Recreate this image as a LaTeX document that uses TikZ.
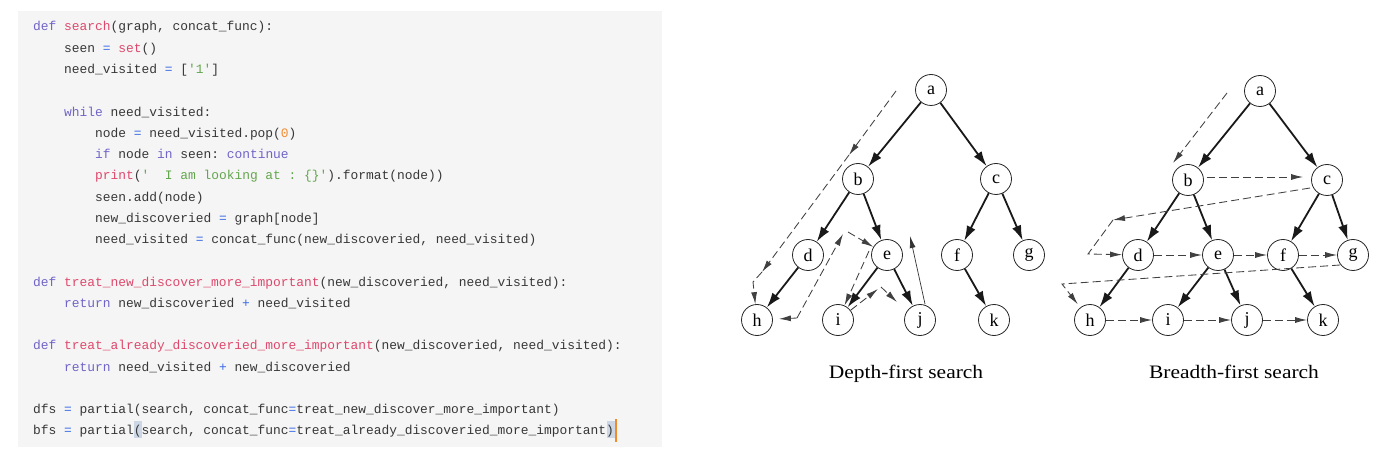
\documentclass[tikz,border=0pt]{standalone}
\usepackage{fontspec}
\setmainfont{Liberation Serif}
\newfontfamily\codefont{Liberation Mono}
\usetikzlibrary{arrows.meta}

\definecolor{panelbg}{RGB}{245,245,245}
\definecolor{codetext}{RGB}{55,55,55}
\definecolor{kwcol}{RGB}{112,100,200}
\definecolor{fncol}{RGB}{222,72,108}
\definecolor{strcol}{RGB}{100,166,78}
\definecolor{numcol}{RGB}{242,140,52}
\definecolor{opcol}{RGB}{58,108,228}
\definecolor{hlbg}{RGB}{204,214,228}
\definecolor{cursorcol}{RGB}{240,140,40}

% syntax colouring helpers
\newcommand\cK[1]{\textcolor{kwcol}{#1}}
\newcommand\cF[1]{\textcolor{fncol}{#1}}
\newcommand\cS[1]{\textcolor{strcol}{#1}}
\newcommand\cN[1]{\textcolor{numcol}{#1}}
\newcommand\cO[1]{\textcolor{opcol}{#1}}
\newcommand\sq{\textquotesingle}
% one code line: name, indent (columns), line number, text
\newcommand\codeln[4]{\node[codeline] (#1) at ({33+#2*7.75},{31+#3*21.26}) {#4};}

\begin{document}
\begin{tikzpicture}[x=1pt,y=-1pt,
  codeline/.style={anchor=base west, inner sep=0pt, text=codetext,
    font=\codefont\fontsize{12.9}{15}\selectfont\frenchspacing},
  treenode/.style={circle, draw=black!85, line width=0.8pt, fill=white,
    minimum size=31pt, inner sep=0pt, font=\fontsize{18}{18}\selectfont},
  treeedge/.style={draw=black!90, line width=1.8pt, -{Latex[length=15pt,width=9.5pt]}},
  trail/.style={draw=black!75, line width=0.85pt, dash pattern=on 8pt off 4pt,
    -{Latex[length=12pt,width=6pt]}},
  thinarrow/.style={draw=black!80, line width=0.7pt, -{Latex[length=12pt,width=6pt]}},
  caption/.style={anchor=base, inner sep=0pt, font=\fontsize{19}{19}\selectfont}]

\useasboundingbox (0,0) rectangle (1385,465);
\fill[white] (0,0) rectangle (1385,465);

% ---------------- code panel ----------------
\fill[panelbg] (18,11) rectangle (662,447);
\fill[hlbg] (133.5,421) rectangle (141.5,438);
\fill[hlbg] (606.5,421) rectangle (614.5,438);
\draw[cursorcol, line width=2pt] (616,419) -- (616,442);

\codeln{ln0}{0}{0}{\cK{def} \cF{search}(graph, concat\_func):}
\codeln{ln1}{4}{1}{seen \cO{=} \cF{set}()}
\codeln{ln2}{4}{2}{need\_visited \cO{=} [\cS{\sq1\sq}]}
\codeln{ln4}{4}{4}{\cK{while} need\_visited:}
\codeln{ln5}{8}{5}{node \cO{=} need\_visited.pop(\cN{0})}
\codeln{ln6}{8}{6}{\cK{if} node \cK{in} seen: \cK{continue}}
\codeln{ln7}{8}{7}{\cF{print}(\cS{\sq\ \ I am looking at : \{\}\sq}).format(node))}
\codeln{ln8}{8}{8}{seen.add(node)}
\codeln{ln9}{8}{9}{new\_discoveried \cO{=} graph[node]}
\codeln{ln10}{8}{10}{need\_visited \cO{=} concat\_func(new\_discoveried, need\_visited)}
\codeln{ln12}{0}{12}{\cK{def} \cF{treat\_new\_discover\_more\_important}(new\_discoveried, need\_visited):}
\codeln{ln13}{4}{13}{\cK{return} new\_discoveried \cO{+} need\_visited}
\codeln{ln15}{0}{15}{\cK{def} \cF{treat\_already\_discoveried\_more\_important}(new\_discoveried, need\_visited):}
\codeln{ln16}{4}{16}{\cK{return} need\_visited \cO{+} new\_discoveried}
\codeln{ln18}{0}{18}{dfs \cO{=} partial(search, concat\_func\cO{=}treat\_new\_discover\_more\_important)}
\codeln{ln19}{0}{19}{bfs \cO{=} partial(search, concat\_func\cO{=}treat\_already\_discoveried\_more\_important)}

% ---------------- depth-first tree ----------------
\node[treenode] (da) at (931,90)  {a};
\node[treenode] (db) at (858,179) {b};
\node[treenode] (dc) at (996,179) {c};
\node[treenode] (dd) at (808,255) {d};
\node[treenode] (de) at (887,255) {e};
\node[treenode] (df) at (957,255) {f};
\node[treenode] (dg) at (1029,255) {g};
\node[treenode] (dh) at (757,320) {h};
\node[treenode] (di) at (838,320) {i};
\node[treenode] (dj) at (920,320) {j};
\node[treenode] (dk) at (994,320) {k};

\foreach \u/\v in {da/db,da/dc,db/dd,db/de,dc/df,dc/dg,dd/dh,de/di,de/dj,df/dk}
  \draw[treeedge] (\u) -- (\v);

% visiting order
\coordinate (t1) at (896,91);
\coordinate (t2) at (849,155);
\coordinate (t3) at (762,272);
\coordinate (t4) at (753,282);
\draw[trail] (t1) -- (t2);
\draw[trail] (t2) -- (t3);
\draw[trail] (t3) -- (t4) -- (dh);
\coordinate (t5) at (797,318);
\coordinate (t6) at (843,234);
\coordinate (t7) at (848,232);
\draw[trail, shorten >=6pt] (t5) -- (dh);
\draw[trail] (t5) -- (t6);
\draw[trail] (t7) -- (de);
\coordinate (t8) at (869,251);
\draw[trail] (t8) -- (di);
\coordinate (t9) at (878,289);
\coordinate (t10) at (881,287);
\coordinate (t11) at (897,302);
\draw[trail] (di) -- (t9);
\draw[trail] (t10) -- (t11);
\coordinate (t12) at (925,304);
\coordinate (t13) at (910,236);
\draw[thinarrow] (t12) -- (t13);

\node[caption] (dcap) at (906,378) {\scalebox{1.13}[1]{Depth-first search}};

% ---------------- breadth-first tree ----------------
\node[treenode] (ba) at (1260,91)  {a};
\node[treenode] (bb) at (1188,180) {b};
\node[treenode] (bc) at (1327,180) {c};
\node[treenode] (bd) at (1138,255) {d};
\node[treenode] (be) at (1218,255) {e};
\node[treenode] (bf) at (1283,255) {f};
\node[treenode] (bg) at (1353,255) {g};
\node[treenode] (bh) at (1090,320) {h};
\node[treenode] (bi) at (1168,320) {i};
\node[treenode] (bj) at (1247,320) {j};
\node[treenode] (bk) at (1323,320) {k};

\foreach \u/\v in {ba/bb,ba/bc,bb/bd,bb/be,bc/bf,bc/bg,bd/bh,be/bi,be/bj,bf/bk}
  \draw[treeedge] (\u) -- (\v);

% visiting order
\coordinate (u1) at (1227,93);
\coordinate (u2) at (1173,163);
\draw[trail] (u1) -- (u2);
\draw[trail, shorten <=3pt, shorten >=8pt] ([yshift=3pt]bb.east) -- ([yshift=3pt]bc.west);
\coordinate (u3) at (1310,188);
\coordinate (u4) at (1113,220);
\coordinate (u5) at (1088,254);
\draw[trail] (u3) -- (u4);
\draw[trail] (u4) -- (u5) -- (bd);
\draw[trail] (bd) -- (be);
\draw[trail] (be) -- (bf);
\draw[trail] (bf) -- (bg);
\coordinate (u6) at (1340,265);
\coordinate (u7) at (1062,284);
\draw[trail, shorten >=4pt] (u6) -- (u7) -- (bh);
\draw[trail] (bh) -- (bi);
\draw[trail] (bi) -- (bj);
\draw[trail] (bj) -- (bk);

\node[caption] (bcap) at (1234,378) {\scalebox{1.13}[1]{Breadth-first search}};
\end{tikzpicture}
\end{document}
